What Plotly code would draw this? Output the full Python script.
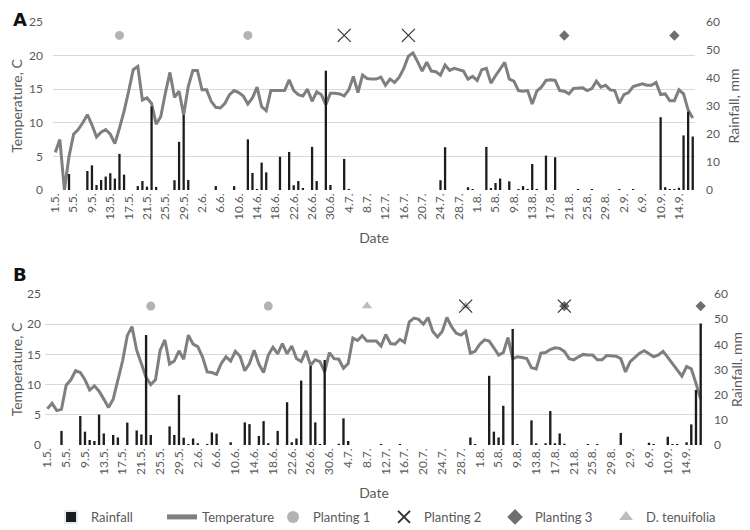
import datetime as dt
import plotly.graph_objects as go

# ---------------- data ----------------
start = dt.date(2020, 5, 1)
n_days = 140
date_labels = [f"{(start + dt.timedelta(days=k)).day}.{(start + dt.timedelta(days=k)).month}." for k in range(n_days)]
day_index = list(range(n_days))
tick_index = list(range(0, n_days, 4))
tick_text = [date_labels[k] for k in tick_index]

temp_A = [5.6, 7.5, 0.0, 5.0, 8.3, 9.0, 10.0, 11.2, 9.7, 7.9,
          8.6, 9.0, 8.3, 6.9, 9.2, 11.7, 14.7, 17.9, 18.4, 13.4,
          13.7, 12.9, 9.8, 10.9, 14.4, 17.5, 13.8, 14.7, 11.2, 15.4,
          17.8, 17.8, 14.9, 14.9, 13.2, 12.3, 12.2, 12.9, 14.2, 14.8,
          14.5, 14.0, 12.8, 13.7, 15.3, 12.4, 11.8, 14.8, 14.8, 14.8,
          14.8, 16.4, 14.8, 14.2, 14.0, 15.0, 13.2, 14.6, 14.2, 12.7,
          14.4, 14.4, 14.3, 14.0, 14.9, 16.9, 14.5, 17.1, 16.6, 16.5,
          16.5, 16.8, 15.6, 16.5, 16.0, 16.8, 18.1, 19.9, 20.4, 19.1,
          17.7, 19.0, 17.7, 17.6, 17.1, 18.6, 17.8, 18.1, 17.9, 17.7,
          16.5, 16.9, 16.3, 17.9, 18.1, 15.9, 17.0, 18.1, 19.0, 16.5,
          16.2, 14.8, 14.7, 14.8, 12.8, 14.7, 15.3, 16.3, 16.4, 16.3,
          14.8, 14.7, 14.3, 15.1, 15.2, 15.2, 14.8, 15.1, 16.2, 15.3,
          15.6, 14.9, 14.8, 12.9, 14.2, 14.5, 15.4, 15.6, 15.8, 15.6,
          15.6, 16.0, 14.2, 14.3, 13.3, 13.3, 14.9, 14.3, 11.9, 10.7]

rain_A_values = {3: 5.7, 7: 6.8, 8: 8.8, 9: 1.8, 10: 3.6, 11: 4.8, 12: 6.0, 13: 4.1,
                 14: 12.9, 15: 5.5, 18: 1.4, 19: 3.2, 20: 1.2, 21: 29.8, 22: 1.1,
                 26: 3.5, 27: 17.2, 28: 26.8, 29: 3.6, 35: 1.4, 39: 1.4, 42: 18.1,
                 43: 6.1, 44: 0.2, 45: 9.8, 46: 6.3, 49: 11.9, 51: 13.6, 52: 1.7,
                 53: 3.2, 54: 0.7, 56: 15.4, 57: 3.2, 59: 42.6, 60: 1.8, 63: 11.1,
                 64: 0.4, 84: 3.5, 85: 15.3, 90: 1.0, 91: 0.2, 94: 15.4, 95: 0.7,
                 96: 2.5, 97: 4.1, 99: 3.1, 101: 0.2, 102: 1.4, 103: 0.4, 104: 9.3,
                 105: 0.4, 107: 12.3, 109: 11.7, 114: 0.1, 117: 0.1, 123: 0.1,
                 126: 0.1, 132: 26.0, 133: 1.0, 134: 0.3, 135: 0.3, 136: 0.8,
                 137: 19.5, 138: 28.0, 139: 19.1}

temp_B = [6.0, 6.9, 5.7, 5.9, 9.9, 10.8, 12.3, 12.0, 10.8, 9.1,
          9.8, 8.9, 7.6, 6.2, 7.6, 10.6, 13.9, 18.1, 19.6, 15.7,
          13.5, 11.2, 10.0, 10.8, 15.7, 17.4, 13.4, 13.9, 15.6, 14.2,
          18.2, 16.7, 16.3, 14.6, 12.1, 12.0, 11.7, 13.5, 14.6, 13.9,
          15.5, 14.7, 12.3, 13.5, 15.7, 13.4, 12.0, 14.9, 16.2, 15.1,
          16.8, 15.1, 16.4, 14.3, 13.8, 15.6, 13.2, 14.1, 13.8, 12.1,
          15.3, 14.3, 14.2, 12.7, 13.5, 17.7, 17.3, 18.1, 17.2, 17.2,
          17.2, 16.4, 18.3, 16.8, 16.7, 17.5, 17.0, 20.4, 21.0, 20.8,
          20.0, 21.1, 18.8, 17.9, 18.8, 21.1, 19.6, 18.5, 18.2, 18.8,
          15.2, 15.5, 16.7, 17.4, 17.2, 16.1, 14.9, 15.3, 17.8, 14.3,
          14.6, 14.5, 14.3, 12.8, 12.6, 15.2, 15.3, 15.8, 16.1, 16.0,
          15.5, 14.3, 14.1, 14.6, 15.0, 14.9, 14.9, 14.1, 14.1, 14.8,
          14.8, 14.7, 14.3, 12.1, 13.8, 14.5, 15.2, 15.6, 15.1, 14.6,
          14.9, 15.5, 14.5, 13.5, 12.4, 11.4, 13.0, 12.6, 10.2, 7.6]

rain_B_values = {3: 5.6, 7: 11.5, 8: 5.3, 9: 2.0, 10: 1.6, 11: 12.1, 12: 4.6, 14: 4.0,
                 15: 3.0, 17: 8.9, 19: 5.8, 20: 4.2, 21: 43.7, 22: 4.0, 26: 7.4,
                 27: 4.0, 28: 19.9, 29: 2.9, 30: 0.3, 31: 2.6, 32: 0.7, 34: 0.1,
                 35: 5.0, 36: 4.5, 39: 1.1, 42: 9.0, 43: 8.3, 45: 3.6, 46: 9.5,
                 47: 0.7, 49: 5.6, 51: 17.0, 52: 1.1, 53: 2.6, 54: 25.6, 56: 31.4,
                 57: 9.0, 58: 0.1, 59: 33.8, 62: 0.5, 63: 10.6, 64: 1.6, 71: 0.1,
                 75: 0.1, 90: 3.0, 91: 0.3, 94: 27.5, 95: 5.3, 96: 3.0, 97: 15.6,
                 99: 46.1, 100: 0.4, 103: 9.8, 104: 0.7, 106: 0.7, 107: 13.5,
                 108: 0.7, 109: 4.6, 110: 0.5, 115: 0.1, 117: 0.1, 122: 4.8,
                 128: 0.9, 129: 0.2, 132: 3.3, 133: 0.1, 134: 0.1, 136: 1.1,
                 137: 8.2, 138: 21.9, 139: 48.3}

rain_A = [rain_A_values.get(k, 0.0) for k in day_index]
rain_B = [rain_B_values.get(k, 0.0) for k in day_index]

# planting events (day index, value on temperature axis)
planting1_A_days, planting1_A_vals = [14, 42], [23, 23]
planting2_A_days, planting2_A_vals = [63, 77], [23, 23]
planting3_A_days, planting3_A_vals = [111, 135], [23, 23]
planting1_B_days, planting1_B_vals = [22, 47], [23, 23]
planting2_B_days, planting2_B_vals = [89, 110], [23, 23]
planting3_B_days, planting3_B_vals = [110, 139], [23, 23]
tenuifolia_B_days, tenuifolia_B_vals = [68, 89], [23, 23]

# ---------------- styling ----------------
FONT = "Lato"
GREY_TXT = "#595959"
GRID = "#d9d9d9"
LINE_C = "#7f7f7f"
BAR_C = "#1c1c1c"
C1, C2, C3, C4 = "#b3b3b3", "#333333", "#6f6f6f", "#bdbdbd"

fig = go.Figure()

def add_panel(xa, ya, ya2, temp, rain):
    fig.add_trace(go.Scatter(x=day_index, y=temp, mode="lines", name="Temperature",
                             line=dict(color=LINE_C, width=3), xaxis=xa, yaxis=ya,
                             showlegend=False))
    fig.add_trace(go.Bar(x=day_index, y=rain, name="Rainfall", marker_color=BAR_C,
                         marker_line_width=0, width=0.5, xaxis=xa, yaxis=ya2,
                         showlegend=False))

add_panel("x", "y", "y2", temp_A, rain_A)
add_panel("x2", "y3", "y4", temp_B, rain_B)

def markers(days, vals, xa, ya, name, symbol, color, size, lw=0):
    fig.add_trace(go.Scatter(x=days, y=vals, mode="markers", name=name,
                             marker=dict(symbol=symbol, color=color, size=size,
                                         line=dict(width=lw, color=color)),
                             xaxis=xa, yaxis=ya, showlegend=False, cliponaxis=False))

markers(planting1_A_days, planting1_A_vals, "x", "y", "Planting 1", "circle", C1, 9)
markers(planting2_A_days, planting2_A_vals, "x", "y", "Planting 2", "x-thin-open", C2, 13, 1.2)
markers(planting3_A_days, planting3_A_vals, "x", "y", "Planting 3", "diamond", C3, 8)
markers(tenuifolia_B_days, tenuifolia_B_vals, "x2", "y3", "D. tenuifolia", "triangle-up", C4, 9)
markers(planting1_B_days, planting1_B_vals, "x2", "y3", "Planting 1", "circle", C1, 9)
markers(planting3_B_days, planting3_B_vals, "x2", "y3", "Planting 3", "diamond", C3, 8)
markers(planting2_B_days, planting2_B_vals, "x2", "y3", "Planting 2", "x-thin-open", C2, 13, 1.2)

# legend-only entries
fig.add_trace(go.Bar(x=[None], y=[None], name="Rainfall", marker_color=BAR_C, legendrank=1))
fig.add_trace(go.Scatter(x=[None], y=[None], mode="lines", name="Temperature",
                         line=dict(color=LINE_C, width=3), legendrank=2))
fig.add_trace(go.Scatter(x=[None], y=[None], mode="markers", name="Planting 1",
                         marker=dict(symbol="circle", color=C1, size=8), legendrank=3))
fig.add_trace(go.Scatter(x=[None], y=[None], mode="markers", name="Planting 2",
                         marker=dict(symbol="x-thin-open", color=C2, size=9,
                                     line=dict(width=1.2, color=C2)), legendrank=4))
fig.add_trace(go.Scatter(x=[None], y=[None], mode="markers", name="Planting 3",
                         marker=dict(symbol="diamond", color=C3, size=7), legendrank=5))
fig.add_trace(go.Scatter(x=[None], y=[None], mode="markers", name="D. tenuifolia",
                         marker=dict(symbol="triangle-up", color=C4, size=8), legendrank=6))

tickfont = dict(family=FONT, size=12, color=GREY_TXT)
titlefont = dict(family=FONT, size=14, color=GREY_TXT)

xcommon = dict(range=[-0.5, n_days - 0.5], tickmode="array", tickvals=tick_index,
               ticktext=tick_text, tickangle=-90, tickfont=tickfont, showgrid=False,
               zeroline=False, showline=False, ticks="")
ycommon = dict(range=[0, 25], tickvals=[0, 5, 10, 15, 20, 25], tickfont=tickfont,
               showgrid=True, gridcolor=GRID, gridwidth=1, zeroline=False, ticks="")
y2common = dict(range=[0, 60], tickvals=[0, 10, 20, 30, 40, 50, 60], tickfont=tickfont,
                showgrid=False, zeroline=False, ticks="", side="right")

# the page body adds an 8 px offset, so the figure is 742 x 522
W, H = 742, 522

fig.update_layout(
    width=W, height=H,
    margin=dict(l=0, r=0, t=0, b=0, autoexpand=False),
    plot_bgcolor="white", paper_bgcolor="white",
    barmode="overlay",
    showlegend=True,
    legend=dict(orientation="h", x=0.058, xanchor="left", y=0.025, yanchor="middle",
                font=dict(family=FONT, size=13, color=GREY_TXT), entrywidth=66,
                traceorder="normal", itemsizing="constant"),
    xaxis=dict(domain=[0.0606, 0.9259], anchor="y",
               title=dict(text="Date", font=titlefont, standoff=14), **xcommon),
    yaxis=dict(domain=[0.6513, 0.9732], anchor="x", ticklabelstandoff=9,
               title=dict(text="Temperature, C", font=titlefont, standoff=8), **ycommon),
    yaxis2=dict(domain=[0.6513, 0.9732], anchor="x", overlaying="y", ticklabelstandoff=10,
                title=dict(text="Rainfall, mm", font=titlefont, standoff=10), **y2common),
    xaxis2=dict(domain=[0.0499, 0.9367], anchor="y3",
                title=dict(text="Date", font=titlefont, standoff=14), **xcommon),
    yaxis3=dict(domain=[0.1628, 0.4521], anchor="x2", ticklabelstandoff=3,
                title=dict(text="Temperature, C", font=titlefont, standoff=5), **ycommon),
    yaxis4=dict(domain=[0.1628, 0.4521], anchor="x2", overlaying="y3", ticklabelstandoff=10,
                title=dict(text="Rainfall, mm", font=titlefont, standoff=3), **y2common),
    annotations=[
        dict(text="<b>A</b>", x=0.004, y=0.978, xref="paper", yref="paper", showarrow=False,
             xanchor="left", yanchor="middle", font=dict(family="DejaVu Sans", size=18, color="#111111")),
        dict(text="<b>B</b>", x=0.004, y=0.49, xref="paper", yref="paper", showarrow=False,
             xanchor="left", yanchor="middle", font=dict(family="DejaVu Sans", size=18, color="#111111")),
    ],
)

fig.write_html("out.html")
